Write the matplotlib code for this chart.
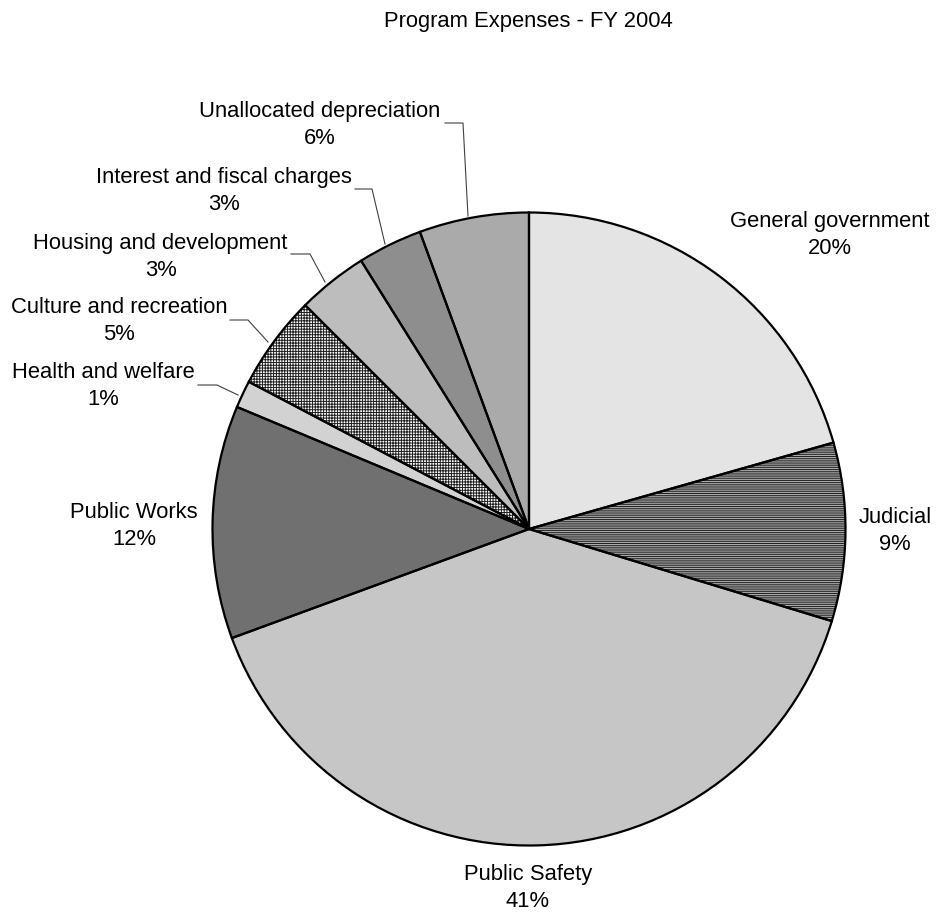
import matplotlib.pyplot as plt

plt.rcParams['font.family'] = ['Liberation Sans', 'DejaVu Sans']
plt.rcParams['hatch.linewidth'] = 0.7

# Categorias (sentido horario a partir do topo)
categorias = [
    'General government', 'Judicial', 'Public Safety', 'Public Works',
    'Health and welfare', 'Culture and recreation', 'Housing and development',
    'Interest and fiscal charges', 'Unallocated depreciation'
]
# Participacao (%)
valores = [20.6, 9.1, 39.7, 11.9, 1.4, 4.8, 3.6, 3.3, 5.6]
# Rotulos impressos no grafico
rotulos_pct = ['20%', '9%', '41%', '12%', '1%', '5%', '3%', '3%', '6%']

cores = ['#e4e4e4', '#bcbcbc', '#c6c6c6', '#707070', '#d2d2d2',
         '#ffffff', '#bdbdbd', '#8e8e8e', '#aaaaaa']
hachuras = [None, '---------', None, None, None, '++++++', None, None, None]

fig = plt.figure(figsize=(9.36, 9.13), dpi=100)
cx, cy, r = 529 / 936, 1 - 529 / 913, 316.5
ax = fig.add_axes([cx - r / 936, cy - r / 913, 2 * r / 936, 2 * r / 913])

# camada de preenchimento com hachura
fundo, _ = ax.pie(valores, startangle=90, counterclock=False, radius=1,
                  colors=cores, wedgeprops=dict(linewidth=0, edgecolor='#202020'))
for w, h in zip(fundo, hachuras):
    if h:
        w.set_hatch(h)
# camada de contornos
ax.pie(valores, startangle=90, counterclock=False, radius=1,
       wedgeprops=dict(facecolor='none', edgecolor='black', linewidth=1.6))

ax.set_xlim(-1, 1)
ax.set_ylim(-1, 1)
ax.set_aspect('equal')
ax.axis('off')


def dados(px, py):
    return (px - 529) / r, (529 - py) / r


# posicoes dos rotulos em pixels (centro x, linha de base do nome)
pos_rotulos = [(829.5, 227), (895, 523), (528, 880), (134, 518), (103, 378),
               (119, 313), (160.5, 249), (224, 183), (320, 117)]
for nome, pct, (px, py) in zip(categorias, rotulos_pct, pos_rotulos):
    ax.text(*dados(px, py), nome, ha='center', va='baseline',
            fontsize=15.8, clip_on=False)
    ax.text(*dados(px, py + 27), pct, ha='center', va='baseline',
            fontsize=15.8, clip_on=False)

# linhas de chamada
linhas = {
    'Unallocated depreciation': [(445, 123), (463, 123), (468, 216)],
    'Interest and fiscal charges': [(355, 189), (372, 189), (385, 244)],
    'Housing and development': [(291, 254), (310, 254), (325, 282)],
    'Culture and recreation': [(230, 320), (248, 320), (268, 342)],
    'Health and welfare': [(198, 385), (217, 385), (238, 395)],
}
for pts in linhas.values():
    xs = [dados(*p)[0] for p in pts]
    ys = [dados(*p)[1] for p in pts]
    ax.plot(xs, ys, color='#404040', linewidth=0.8, clip_on=False)

fig.text(528 / 936, 1 - 27 / 913, 'Program Expenses - FY 2004',
         ha='center', va='baseline', fontsize=15.8)

fig.savefig('out.png', dpi=100)
